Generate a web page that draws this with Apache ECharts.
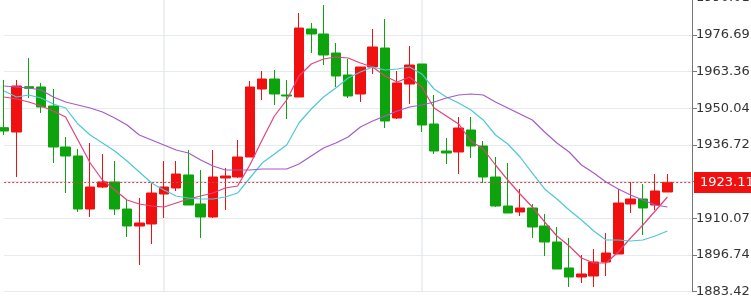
<!DOCTYPE html>
<html>
<head>
<meta charset="utf-8">
<script src="https://cdn.jsdelivr.net/npm/echarts@6/dist/echarts.min.js"></script>
<style>html,body{margin:0;padding:0;background:#fff}#c{width:751px;height:296px}</style>
</head>
<body>
<div id="c"></div>
<script>
// candles: [open, close, low, high]
var candles = [
  [1942.96,1941.76,1940.31,1960.28],
  [1941.40,1958.10,1925.06,1960.28],
  [1957.84,1957.26,1953.74,1968.26],
  [1957.74,1950.47,1948.30,1959.19],
  [1950.84,1935.95,1930.14,1957.01],
  [1935.95,1932.69,1919.25,1939.58],
  [1932.69,1913.44,1912.36,1935.23],
  [1913.44,1921.43,1910.54,1937.41],
  [1921.43,1923.25,1921.07,1933.41],
  [1923.25,1913.44,1911.27,1930.87],
  [1913.44,1907.27,1903.28,1917.08],
  [1907.27,1908.36,1893.11,1917.44],
  [1908.00,1919.25,1900.74,1922.88],
  [1918.89,1921.43,1910.18,1930.87],
  [1921.07,1926.15,1919.98,1930.87],
  [1925.79,1914.90,1914.90,1934.86],
  [1915.26,1910.54,1902.92,1927.60],
  [1910.54,1925.06,1910.18,1934.86],
  [1924.70,1925.42,1913.08,1928.33],
  [1925.06,1932.32,1924.70,1938.49],
  [1932.32,1957.74,1932.32,1959.91],
  [1957.01,1960.64,1953.02,1963.54],
  [1960.64,1955.19,1951.20,1963.91],
  [1954.83,1954.47,1946.12,1960.28],
  [1954.11,1979.15,1954.11,1984.60],
  [1978.79,1976.98,1970.08,1980.97],
  [1976.98,1969.35,1965.72,1987.50],
  [1970.08,1961.73,1957.74,1973.71],
  [1962.09,1954.47,1953.74,1967.90],
  [1955.19,1965.00,1952.29,1965.00],
  [1965.00,1972.26,1962.46,1978.79],
  [1971.89,1945.39,1942.85,1982.42],
  [1946.48,1959.19,1946.12,1963.54],
  [1958.82,1965.72,1951.56,1972.62],
  [1966.09,1943.94,1941.40,1966.09],
  [1944.30,1934.50,1933.41,1954.83],
  [1934.50,1933.77,1929.78,1939.22],
  [1934.14,1942.85,1926.15,1946.84],
  [1942.12,1936.32,1931.96,1946.84],
  [1936.32,1925.06,1922.88,1938.13],
  [1925.06,1914.53,1914.17,1932.32],
  [1914.53,1911.99,1911.99,1930.14],
  [1912.36,1913.81,1910.90,1920.71],
  [1913.81,1906.91,1902.92,1915.26],
  [1907.27,1901.46,1896.38,1911.63],
  [1901.46,1891.66,1891.66,1906.91],
  [1892.03,1888.76,1885.13,1902.92],
  [1888.76,1889.85,1886.58,1896.74],
  [1889.12,1894.20,1885.13,1898.92],
  [1894.20,1897.47,1889.12,1904.73],
  [1897.11,1915.62,1897.11,1920.71],
  [1915.26,1917.08,1911.99,1923.25],
  [1917.08,1913.81,1904.01,1922.52],
  [1914.90,1919.98,1913.08,1926.15],
  [1919.62,1923.11,1919.62,1926.15]
];
var maFast = [1954.11,1953.38,1952.29,1950.84,1949.02,1946.84,1938.49,1930.14,1923.97,1920.34,
  1916.71,1915.26,1914.53,1914.17,1915.62,1917.08,1918.16,1919.25,1921.07,1921.79,
  1929.42,1938.49,1947.21,1953.02,1961.73,1966.09,1967.90,1968.63,1968.26,1966.45,
  1965.00,1961.73,1959.55,1961.37,1957.74,1950.11,1947.21,1944.30,1938.13,1935.23,
  1929.42,1923.97,1918.89,1914.17,1908.73,1903.64,1900.01,1895.66,1893.84,1893.84,
  1897.83,1902.92,1907.64,1912.72,1917.80];
var maMid = [1956.28,1954.11,1954.83,1953.74,1951.56,1950.11,1944.30,1940.31,1937.41,1934.50,
  1930.87,1926.88,1922.88,1920.34,1918.16,1917.44,1917.08,1917.08,1917.80,1919.25,
  1924.70,1930.14,1933.41,1936.68,1944.67,1949.75,1954.11,1957.37,1961.00,1963.18,
  1965.00,1963.91,1964.27,1965.00,1962.46,1957.01,1954.11,1951.93,1949.39,1945.76,
  1940.31,1937.04,1932.32,1926.51,1920.71,1917.08,1913.08,1909.45,1905.46,1902.19,
  1902.19,1901.83,1902.19,1903.64,1905.46];
var maSlow = [1958.10,1957.74,1957.37,1956.65,1954.11,1952.29,1951.20,1950.11,1948.66,1946.48,
  1943.94,1940.31,1938.49,1936.68,1934.86,1933.77,1931.23,1929.06,1927.60,1927.60,
  1927.60,1927.97,1927.97,1927.97,1929.78,1932.69,1935.59,1937.41,1939.58,1943.21,
  1945.39,1947.21,1949.02,1950.47,1951.20,1952.29,1953.74,1954.83,1955.19,1954.83,
  1952.29,1950.11,1947.93,1945.76,1941.40,1937.41,1934.14,1929.42,1926.51,1923.25,
  1920.71,1918.53,1916.71,1914.90,1914.17];
var tickLabels = ['1883.42','1896.74','1910.07','1923.39','1936.72','1950.04','1963.36','1976.69','1990.01'];
var lastPrice = 1923.11;
var yMin = 1883.42, yStep = 13.324;

var categories = [];
for (var i = 0; i < candles.length + 2; i++) categories.push('P' + (i + 1));

var chart = echarts.init(document.getElementById('c'), null, {renderer: 'canvas'});
chart.setOption({
  animation: false,
  backgroundColor: '#ffffff',
  grid: {left: 4.2, right: 59, top: -1.9, bottom: 4.3, containLabel: false, outerBoundsMode: 'none'},
  xAxis: {
    type: 'category',
    data: categories,
    boundaryGap: false,
    axisLine: {show: false},
    axisTick: {show: false},
    axisLabel: {show: false},
    splitLine: {
      show: true,
      interval: function (idx) { return idx === 13 || idx === 34; },
      lineStyle: {color: '#e6eaef', width: 1.5}
    }
  },
  yAxis: {
    type: 'value',
    position: 'right',
    scale: true,
    min: yMin,
    max: yMin + yStep * (tickLabels.length - 1),
    interval: yStep,
    axisLine: {show: true, lineStyle: {color: '#777', width: 1}},
    axisTick: {show: true, length: 5, lineStyle: {color: '#777'}},
    axisLabel: {
      show: true, margin: 4, color: '#333', fontSize: 13, fontFamily: 'DejaVu Sans',
      formatter: function (v) { return tickLabels[Math.round((v - yMin) / yStep)] || ''; }
    },
    splitLine: {show: true, lineStyle: {color: '#e6e9ee', width: 1}}
  },
  series: [
    {
      type: 'candlestick',
      data: candles,
      barWidth: 10,
      clip: false,
      itemStyle: {color: '#f01010', color0: '#0ca30c', borderColor: '#f01010', borderColor0: '#0ca30c', borderWidth: 1},
      markLine: {
        silent: true,
        symbol: ['none', 'none'],
        data: [{yAxis: lastPrice}],
        lineStyle: {color: '#e23a3a', type: [2, 2], width: 1},
        label: {
          show: true, position: 'end', distance: 2,
          formatter: function () { return lastPrice.toFixed(2); },
          color: '#fff', backgroundColor: '#f01010', fontSize: 13, fontFamily: 'DejaVu Sans',
          padding: [3, 8, 3, 6], lineHeight: 15
        }
      }
    },
    {type: 'line', data: maFast, symbol: 'none', smooth: false, lineStyle: {color: '#e2427c', width: 1.2}, z: 3},
    {type: 'line', data: maMid, symbol: 'none', smooth: false, lineStyle: {color: '#4cc8d6', width: 1.2}, z: 3},
    {type: 'line', data: maSlow, symbol: 'none', smooth: false, lineStyle: {color: '#a45cc6', width: 1.2}, z: 3}
  ]
});
</script>
</body>
</html>
